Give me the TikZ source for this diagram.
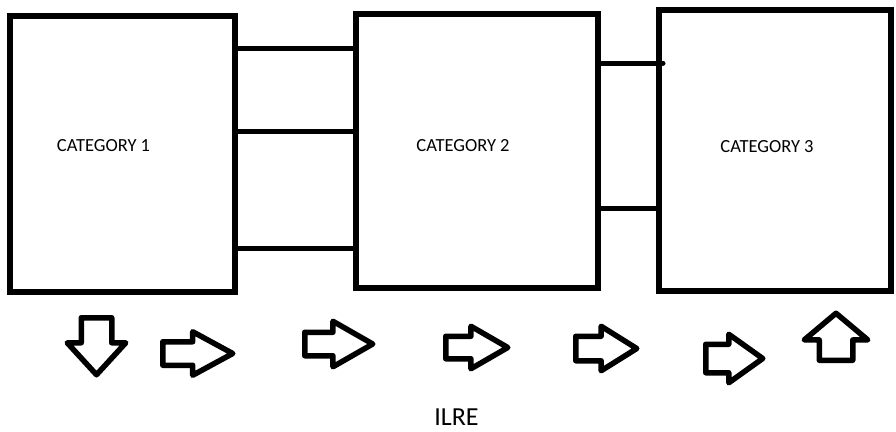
\documentclass[tikz,border=0pt]{standalone}
\usepackage{fontspec}
\setmainfont{Carlito}
\usetikzlibrary{shapes.arrows}

\begin{document}
\begin{tikzpicture}[
        x=1pt, y=-1pt,
        catbox/.style={rectangle, draw, line width=6pt, inner sep=0pt},
        cattext/.style={font=\fontsize{18.5}{22}\selectfont},
        link/.style={line width=5pt},
        flow/.style={single arrow, draw, line width=5.5pt, line join=round, inner xsep=0pt, anchor=tail}
    ]
    \useasboundingbox (0,0) rectangle (896,431);

    % Categories
    \node[catbox, minimum width=225pt, minimum height=276pt] (cat1box) at (122.5,154) {};
    \node[catbox, minimum width=242pt, minimum height=274pt] (cat2box) at (477,151) {};
    \node[catbox, minimum width=232pt, minimum height=281pt] (cat3box) at (775,150.5) {};
    \node[cattext] (cat1) at (103.5,146) {CATEGORY 1};
    \node[cattext] (cat2) at (463,146) {CATEGORY 2};
    \node[cattext] (cat3) at (767,147) {CATEGORY 3};

    % Links
    \draw[link] (cat1box.east |- 0,48) -- (cat2box.west |- 0,48);
    \draw[link] (cat1box.east |- 0,131) -- (cat2box.west |- 0,131);
    \draw[link] (cat1box.east |- 0,248) -- (cat2box.west |- 0,248);
    \draw[link, line cap=round] (cat2box.east |- 0,63) -- (cat3box.west |- 0,63) -- ++(7,0);
    \draw[link] (cat2box.east |- 0,208) -- (cat3box.west |- 0,208);

    % Flow arrows
    \node[flow, rotate=-90, inner ysep=12.5pt, single arrow head extend=14pt, single arrow tip angle=85, minimum height=57pt] (down) at (96.5,315) {};
    \node[flow, inner ysep=9pt, single arrow head extend=10pt, single arrow tip angle=57, minimum height=70pt] (f1) at (160,353.5) {};
    \node[flow, inner ysep=9pt, single arrow head extend=11pt, single arrow tip angle=59.5, minimum height=68pt] (f2) at (302,344) {};
    \node[flow, inner ysep=8.5pt, single arrow head extend=10pt, single arrow tip angle=60, minimum height=62pt] (f3) at (443,347.5) {};
    \node[flow, inner ysep=9.5pt, single arrow head extend=10pt, single arrow tip angle=64, minimum height=61pt] (f4) at (573,348.5) {};
    \node[flow, inner ysep=11.5pt, single arrow head extend=10pt, single arrow tip angle=71, minimum height=57pt] (f5) at (703,358.5) {};
    \node[flow, rotate=90, inner ysep=14pt, single arrow head extend=15pt, single arrow tip angle=100, minimum height=47pt] (up) at (836,363) {};

    % Label
    \node[font=\fontsize{26}{31}\selectfont, inner sep=0pt] (ilre) at (456.5,417.5) {ILRE};
\end{tikzpicture}
\end{document}
